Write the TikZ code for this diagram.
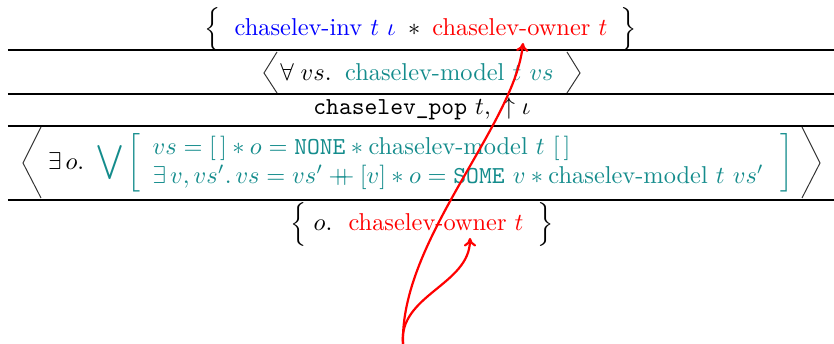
\documentclass[tikz,border=0pt]{standalone}
\usepackage{amsmath}
\usetikzlibrary{arrows.meta}
\definecolor{tealc}{rgb}{0.08,0.55,0.55}
\newcommand{\cname}[1]{\text{#1}}
\begin{document}
\begin{tikzpicture}[x=0.41pt,y=-0.41pt,
  rulel/.style={line width=0.8pt},
  angl/.style={line width=0.4pt, draw=black!80},
  txt/.style={inner sep=0pt, outer sep=0pt},
  own/.style={red, line width=0.9pt, -{To[length=3.5pt,width=5pt]}}]
\useasboundingbox (0,0) rectangle (834,344);
% rules
\coordinate (l1a) at (8,50);  \coordinate (l1b) at (834,50);
\coordinate (l2a) at (8,94);  \coordinate (l2b) at (834,94);
\coordinate (l3a) at (8,126); \coordinate (l3b) at (834,126);
\coordinate (l4a) at (8,200); \coordinate (l4b) at (834,200);
\draw[rulel] (l1a) -- (l1b);
\draw[rulel] (l2a) -- (l2b);
\draw[rulel] (l3a) -- (l3b);
\draw[rulel] (l4a) -- (l4b);
% precondition
\node[txt] (pre) at (421,29.5) {$\Bigl\{\;\;{\color{blue}\cname{chaselev-inv}\ t\ \iota}\;\ast\;{\color{red}\cname{chaselev-owner}\ t}\;\;\Bigr\}$};
% invariant row
\draw[angl] (277,52) -- (264,73) -- (277,93);
\draw[angl] (567,52) -- (580,73) -- (567,93);
\node[txt] (inv) at (417,72) {$\forall\; vs.\;\;{\color{tealc}\cname{chaselev-model}\ t\ vs}$};
% command
\node[txt] (cmd) at (422,109) {$\texttt{chaselev\_pop}\ t,\ \uparrow\iota$};
% postcondition row
\draw[angl] (41,127) -- (23,163) -- (41,198);
\draw[angl] (802,127) -- (820,163) -- (802,198);
\node[txt, anchor=west] (post4) at (48,163) {$\exists\, o.\ \,{\color{tealc}\displaystyle\bigvee\left[\begin{array}{l}
vs = [\,] * o = \texttt{NONE} * \cname{chaselev-model}\ t\ [\,]\\
\exists\, v, vs'.\, vs = vs' \mathbin{+\!\!\!+} [v] * o = \texttt{SOME}\ v * \cname{chaselev-model}\ t\ vs'
\end{array}\,\right]}$};
% final
\node[txt] (post) at (422,224) {$\Bigl\{\; o.\ \ {\color{red}\cname{chaselev-owner}\ t}\;\;\Bigr\}$};
% arrows
\coordinate (src) at (403,344);
\coordinate (tipA) at (523,43);
\coordinate (tipB) at (470,238);
\draw[own] (src) .. controls (400,240) and (515,125) .. (tipA);
\draw[own] (src) .. controls (398,295) and (470,285) .. (tipB);
\end{tikzpicture}
\end{document}
